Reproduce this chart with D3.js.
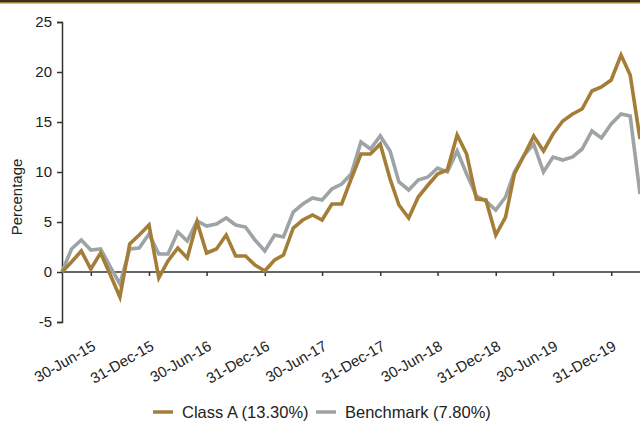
<!DOCTYPE html>
<html>
<head>
<meta charset="utf-8">
<script src="https://cdn.jsdelivr.net/npm/d3@7"></script>
<style>
  body { margin: 0; background: #fff; }
  svg { display: block; font-family: "Liberation Sans", Arial, sans-serif; }
</style>
</head>
<body>
<div id="chart"></div>
<script>
// month-end observations, 31-Mar-15 .. 31-Mar-20
const startMonth = '2015-03';
const endMonth = '2020-03';

const classA = [
  0, 1.0, 2.1, 0.3, 1.9, -0.3, -2.5, 2.8, 3.7, 4.7,
  -0.6, 1.1, 2.4, 1.4, 5.0, 1.9, 2.3, 3.7, 1.6, 1.6,
  0.7, 0.1, 1.2, 1.7, 4.4, 5.2, 5.7, 5.2, 6.8, 6.8,
  9.3, 11.8, 11.8, 12.8, 9.3, 6.7, 5.4, 7.5, 8.7, 9.8,
  10.2, 13.7, 11.8, 7.3, 7.2, 3.7, 5.5, 9.8, 11.7, 13.6,
  12.1, 13.8, 15.1, 15.8, 16.3, 18.1, 18.5, 19.2, 21.7, 19.7,
  13.3
];

const benchmark = [
  0, 2.3, 3.2, 2.2, 2.3, 0.5, -1.2, 2.3, 2.4, 3.8,
  1.8, 1.8, 4.0, 3.1, 5.1, 4.6, 4.8, 5.4, 4.7, 4.5,
  3.2, 2.1, 3.7, 3.5, 6.0, 6.8, 7.4, 7.2, 8.3, 8.8,
  9.8, 13.0, 12.3, 13.6, 12.1, 9.0, 8.2, 9.2, 9.5, 10.4,
  10.0, 12.1, 9.8, 7.6, 7.1, 6.2, 7.5, 10.0, 11.7, 12.8,
  10.0, 11.5, 11.2, 11.5, 12.3, 14.1, 13.4, 14.8, 15.8, 15.6,
  7.8
];

const xTickLabels = ['30-Jun-15', '31-Dec-15', '30-Jun-16', '31-Dec-16', '30-Jun-17',
  '31-Dec-17', '30-Jun-18', '31-Dec-18', '30-Jun-19', '31-Dec-19'];
const yTicks = [-5, 0, 5, 10, 15, 20, 25];

const seriesNames = ['Class A (13.30%)', 'Benchmark (7.80%)'];
const seriesColors = ['#a47e37', '#9ea3a6'];

const W = 640, H = 421;
const margin = { left: 62, right: 0, top: 22, bottom: 99 };

const parseMonth = d3.timeParse('%Y-%m');
const parseTick = d3.timeParse('%d-%b-%y');
const monthEnd = m => d3.timeDay.offset(d3.timeMonth.offset(m, 1), -1);
const dates = d3.timeMonth.range(parseMonth(startMonth), d3.timeMonth.offset(parseMonth(endMonth), 1)).map(monthEnd);

const svg = d3.select('#chart').append('svg')
  .attr('width', W)
  .attr('height', H);

// top rule
svg.append('rect').attr('x', 0).attr('y', 0).attr('width', W).attr('height', 2).attr('fill', '#3b3020');
svg.append('rect').attr('x', 0).attr('y', 2).attr('width', W).attr('height', 1.5).attr('fill', '#a47e37');

const x = d3.scaleTime()
  .domain(d3.extent(dates))
  .range([margin.left, W - margin.right]);

const y = d3.scaleLinear()
  .domain([-5, 25])
  .range([H - margin.bottom, margin.top]);

const axisColor = '#333';

// y axis
const yAxis = svg.append('g')
  .attr('transform', `translate(${margin.left},0)`)
  .call(d3.axisLeft(y).tickValues(yTicks).tickSize(5).tickPadding(5).tickFormat(d => String(d)));
yAxis.select('.domain').attr('stroke', axisColor).attr('stroke-width', 1.5);
yAxis.selectAll('.tick line').attr('stroke', axisColor).attr('stroke-width', 1.5);
yAxis.selectAll('text').attr('font-size', 15).attr('fill', '#222').attr('font-family', '"Liberation Sans", Arial, sans-serif');

// x axis at zero
const tickDates = xTickLabels.map(parseTick);
const xAxis = svg.append('g')
  .attr('transform', `translate(0,${y(0)})`)
  .call(d3.axisBottom(x).tickValues(tickDates).tickSize(4).tickFormat(''));
xAxis.select('.domain').attr('stroke', axisColor).attr('stroke-width', 1.5).attr('d', `M${margin.left},0H${W}`);
xAxis.selectAll('.tick line').attr('stroke', axisColor).attr('stroke-width', 1.5);

// rotated x labels below the plot
svg.append('g').selectAll('text')
  .data(xTickLabels)
  .join('text')
  .attr('transform', (d, i) => `translate(${x(tickDates[i]) + 6},${y(-5) + 27}) rotate(-30)`)
  .attr('text-anchor', 'end')
  .attr('font-size', 15)
  .attr('fill', '#222')
  .text(d => d);

// y title
svg.append('text')
  .attr('transform', `translate(22,${(y(25) + y(-5)) / 2 + 25}) rotate(-90)`)
  .attr('text-anchor', 'middle')
  .attr('font-size', 15)
  .attr('fill', '#222')
  .text('Percentage');

// lines
const line = d3.line()
  .x((d, i) => x(dates[i]))
  .y(d => y(d));

[benchmark, classA].forEach((s, k) => {
  svg.append('path')
    .datum(s)
    .attr('fill', 'none')
    .attr('stroke', k === 0 ? seriesColors[1] : seriesColors[0])
    .attr('stroke-width', 3.6)
    .attr('stroke-linejoin', 'miter')
    .attr('d', line);
});

// legend
const legend = svg.append('g').attr('transform', `translate(153,${H - 9})`);
const legendX = [0, 163];
seriesNames.forEach((name, i) => {
  const g = legend.append('g').attr('transform', `translate(${legendX[i]},0)`);
  g.append('line')
    .attr('x1', 0).attr('x2', 20).attr('y1', 0).attr('y2', 0)
    .attr('stroke', seriesColors[i]).attr('stroke-width', 3.5);
  g.append('text')
    .attr('x', 29).attr('y', 6)
    .attr('font-size', 16.5)
    .attr('fill', '#222')
    .text(name);
});
</script>
</body>
</html>
